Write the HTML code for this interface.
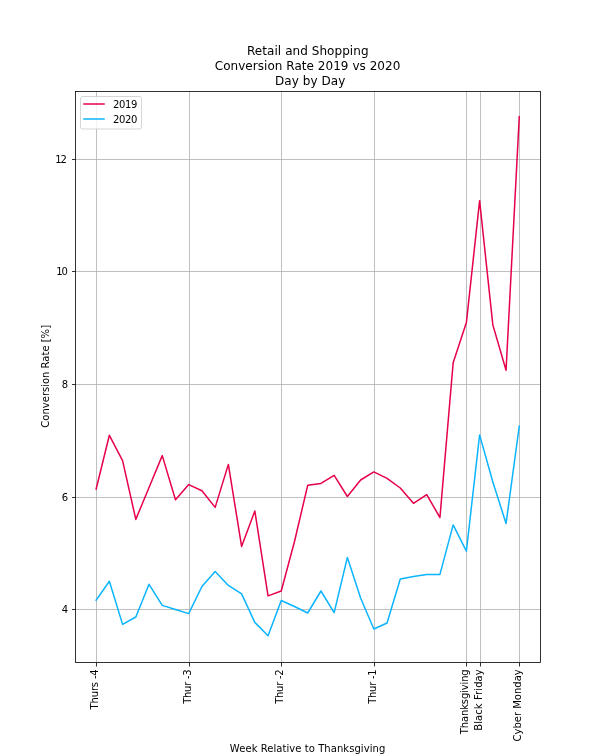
<!DOCTYPE html>
<html lang="en">
<head>
<meta charset="utf-8">
<title>Retail and Shopping Conversion Rate 2019 vs 2020</title>
<style>
html,body{margin:0;padding:0;background:#ffffff;}
body{width:600px;height:756px;overflow:hidden;}
svg{display:block;}
text{font-family:"DejaVu Sans","Liberation Sans",sans-serif;fill:#000000;}
.t10{font-size:10px;}
.t12{font-size:12px;}
.grid line{stroke:#b0b0b0;stroke-width:0.8;}
.tick line{stroke:#000000;stroke-width:0.8;}
</style>
</head>
<body>
<svg width="600" height="756" viewBox="0 0 600 756">
<rect x="0" y="0" width="600" height="756" fill="#ffffff"/>
<g class="grid">
<line x1="96.5" y1="91.5" x2="96.5" y2="662.5"/>
<line x1="189.5" y1="91.5" x2="189.5" y2="662.5"/>
<line x1="281.5" y1="91.5" x2="281.5" y2="662.5"/>
<line x1="374.5" y1="91.5" x2="374.5" y2="662.5"/>
<line x1="466.5" y1="91.5" x2="466.5" y2="662.5"/>
<line x1="480.5" y1="91.5" x2="480.5" y2="662.5"/>
<line x1="519.5" y1="91.5" x2="519.5" y2="662.5"/>
<line x1="75.5" y1="159.5" x2="540.5" y2="159.5"/>
<line x1="75.5" y1="271.5" x2="540.5" y2="271.5"/>
<line x1="75.5" y1="384.5" x2="540.5" y2="384.5"/>
<line x1="75.5" y1="497.5" x2="540.5" y2="497.5"/>
<line x1="75.5" y1="609.5" x2="540.5" y2="609.5"/>
</g>
<g class="tick">
<line x1="96.5" y1="662.5" x2="96.5" y2="666.5"/>
<line x1="189.5" y1="662.5" x2="189.5" y2="666.5"/>
<line x1="281.5" y1="662.5" x2="281.5" y2="666.5"/>
<line x1="374.5" y1="662.5" x2="374.5" y2="666.5"/>
<line x1="466.5" y1="662.5" x2="466.5" y2="666.5"/>
<line x1="480.5" y1="662.5" x2="480.5" y2="666.5"/>
<line x1="519.5" y1="662.5" x2="519.5" y2="666.5"/>
<line x1="72.0" y1="159.5" x2="75.5" y2="159.5"/>
<line x1="72.0" y1="271.5" x2="75.5" y2="271.5"/>
<line x1="72.0" y1="384.5" x2="75.5" y2="384.5"/>
<line x1="72.0" y1="497.5" x2="75.5" y2="497.5"/>
<line x1="72.0" y1="609.5" x2="75.5" y2="609.5"/>
</g>
<polyline fill="none" stroke="#E60049" stroke-width="1.5" stroke-linejoin="round" stroke-linecap="square" points="96.14,489.00 109.36,435.30 122.59,460.60 135.81,519.40 149.03,487.50 162.25,455.60 175.48,499.70 188.70,484.60 201.92,490.80 215.15,507.40 228.37,464.40 241.59,546.40 254.82,510.90 268.04,595.90 281.26,591.00 294.49,541.50 307.71,485.30 320.93,483.40 334.15,475.30 347.38,496.50 360.60,480.00 373.82,471.90 387.05,478.40 400.27,488.00 413.49,503.30 426.72,494.70 439.94,517.50 453.16,362.80 466.38,322.60 479.61,200.70 492.83,324.90 506.05,370.30 519.28,116.60"/>
<polyline fill="none" stroke="#0BB4FF" stroke-width="1.5" stroke-linejoin="round" stroke-linecap="square" points="96.14,600.20 109.36,581.30 122.59,624.40 135.81,617.00 149.03,584.30 162.25,605.40 175.48,609.50 188.70,613.60 201.92,586.50 215.15,571.60 228.37,585.40 241.59,593.90 254.82,622.40 268.04,635.70 281.26,600.50 294.49,606.50 307.71,613.00 320.93,591.00 334.15,612.70 347.38,557.40 360.60,598.00 373.82,629.00 387.05,623.00 400.27,579.00 413.49,576.40 426.72,574.60 439.94,574.40 453.16,524.90 466.38,551.20 479.61,434.90 492.83,482.00 506.05,523.40 519.28,426.20"/>
<rect x="75.5" y="91.5" width="465.0" height="571.0" fill="none" stroke="#000000" stroke-width="0.8" stroke-linejoin="miter"/>
<text class="t10" x="55.3" y="162.8" letter-spacing="-1.1">12</text>
<text class="t10" x="56.3" y="274.8" letter-spacing="-1.1">10</text>
<text class="t10" x="68" y="387.8" text-anchor="end">8</text>
<text class="t10" x="68" y="500.8" text-anchor="end">6</text>
<text class="t10" x="68" y="612.8" text-anchor="end">4</text>
<text class="t10" transform="translate(98,669.47) rotate(-90)" text-anchor="end" letter-spacing="-0.17">Thurs -4</text>
<text class="t10" transform="translate(191,669.55) rotate(-90)" text-anchor="end" letter-spacing="-0.25">Thur -3</text>
<text class="t10" transform="translate(283,669.55) rotate(-90)" text-anchor="end" letter-spacing="-0.25">Thur -2</text>
<text class="t10" transform="translate(376,669.55) rotate(-90)" text-anchor="end" letter-spacing="-0.25">Thur -1</text>
<text class="t10" transform="translate(468,669.44) rotate(-90)" text-anchor="end" letter-spacing="-0.14">Thanksgiving</text>
<text class="t10" transform="translate(482,669.22) rotate(-90)" text-anchor="end" letter-spacing="0.08">Black Friday</text>
<text class="t10" transform="translate(521,669.30) rotate(-90)" text-anchor="end" letter-spacing="0">Cyber Monday</text>
<text class="t10" x="307.6" y="751.8" text-anchor="middle" letter-spacing="0.06">Week Relative to Thanksgiving</text>
<text class="t10" transform="translate(49.4,376.3) rotate(-90)" text-anchor="middle">Conversion Rate [%]</text>
<text class="t12" x="307.8" y="54.7" text-anchor="middle" letter-spacing="0.06">Retail and Shopping</text>
<text class="t12" x="307.6" y="69.6" text-anchor="middle" letter-spacing="0.04">Conversion Rate 2019 vs 2020</text>
<text class="t12" x="310.2" y="84.8" text-anchor="middle" letter-spacing="0.05">Day by Day</text>
<rect x="80.5" y="96.5" width="61" height="32.5" rx="2" ry="2" fill="#ffffff" fill-opacity="0.8" stroke="#cccccc" stroke-opacity="0.8" stroke-width="1"/>
<line x1="84" y1="104" x2="104" y2="104" stroke="#E60049" stroke-width="1.5" stroke-linecap="square"/>
<line x1="84" y1="119" x2="104" y2="119" stroke="#0BB4FF" stroke-width="1.5" stroke-linecap="square"/>
<text class="t10" x="113.1" y="107.6" letter-spacing="-0.4">2019</text>
<text class="t10" x="113.1" y="123.2" letter-spacing="-0.4">2020</text>
</svg>
</body>
</html>
